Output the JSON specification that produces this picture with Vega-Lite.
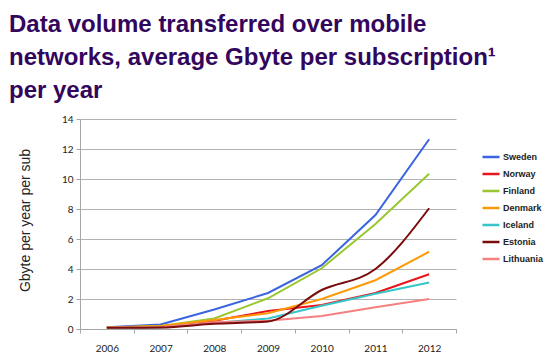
{
  "$schema": "https://vega.github.io/schema/vega-lite/v6.json",
  "width": 376,
  "height": 210,
  "autosize": "none",
  "padding": {"left": 80, "top": 119, "right": 94, "bottom": 29},
  "background": "white",
  "title": {
    "text": ["Data volume transferred over mobile", "networks, average Gbyte per subscription¹", "per year"],
    "anchor": "start",
    "frame": "group",
    "orient": "top",
    "dx": -71,
    "offset": 11,
    "font": "Liberation Sans",
    "fontSize": 24,
    "fontWeight": "bold",
    "lineHeight": 33,
    "color": "#33065e"
  },
  "data": {
    "values": [
      {"year": "2006", "country": "Sweden", "value": 0.12},
      {"year": "2007", "country": "Sweden", "value": 0.3},
      {"year": "2008", "country": "Sweden", "value": 1.3},
      {"year": "2009", "country": "Sweden", "value": 2.4},
      {"year": "2010", "country": "Sweden", "value": 4.25},
      {"year": "2011", "country": "Sweden", "value": 7.6},
      {"year": "2012", "country": "Sweden", "value": 12.65},
      {"year": "2006", "country": "Norway", "value": 0.1},
      {"year": "2007", "country": "Norway", "value": 0.15},
      {"year": "2008", "country": "Norway", "value": 0.55},
      {"year": "2009", "country": "Norway", "value": 1.2},
      {"year": "2010", "country": "Norway", "value": 1.6},
      {"year": "2011", "country": "Norway", "value": 2.4},
      {"year": "2012", "country": "Norway", "value": 3.65},
      {"year": "2006", "country": "Finland", "value": 0.1},
      {"year": "2007", "country": "Finland", "value": 0.2},
      {"year": "2008", "country": "Finland", "value": 0.7},
      {"year": "2009", "country": "Finland", "value": 2.05},
      {"year": "2010", "country": "Finland", "value": 4.05},
      {"year": "2011", "country": "Finland", "value": 7.0},
      {"year": "2012", "country": "Finland", "value": 10.35},
      {"year": "2006", "country": "Denmark", "value": 0.1},
      {"year": "2007", "country": "Denmark", "value": 0.2},
      {"year": "2008", "country": "Denmark", "value": 0.6},
      {"year": "2009", "country": "Denmark", "value": 1.05},
      {"year": "2010", "country": "Denmark", "value": 2.0},
      {"year": "2011", "country": "Denmark", "value": 3.25},
      {"year": "2012", "country": "Denmark", "value": 5.15},
      {"year": "2006", "country": "Iceland", "value": 0.08},
      {"year": "2007", "country": "Iceland", "value": 0.1},
      {"year": "2008", "country": "Iceland", "value": 0.4},
      {"year": "2009", "country": "Iceland", "value": 0.7},
      {"year": "2010", "country": "Iceland", "value": 1.55},
      {"year": "2011", "country": "Iceland", "value": 2.35},
      {"year": "2012", "country": "Iceland", "value": 3.1},
      {"year": "2006", "country": "Estonia", "value": 0.08},
      {"year": "2007", "country": "Estonia", "value": 0.1},
      {"year": "2008", "country": "Estonia", "value": 0.35},
      {"year": "2009", "country": "Estonia", "value": 0.5},
      {"year": "2010", "country": "Estonia", "value": 2.6},
      {"year": "2011", "country": "Estonia", "value": 4.0},
      {"year": "2012", "country": "Estonia", "value": 8.05},
      {"year": "2006", "country": "Lithuania", "value": 0.1},
      {"year": "2007", "country": "Lithuania", "value": 0.12},
      {"year": "2008", "country": "Lithuania", "value": 0.45},
      {"year": "2009", "country": "Lithuania", "value": 0.55},
      {"year": "2010", "country": "Lithuania", "value": 0.87},
      {"year": "2011", "country": "Lithuania", "value": 1.45},
      {"year": "2012", "country": "Lithuania", "value": 2.0}
    ]
  },
  "encoding": {
    "x": {
      "field": "year",
      "type": "ordinal",
      "scale": {"type": "band", "paddingInner": 0, "paddingOuter": 0},
      "axis": {
        "title": null,
        "labelAngle": 0,
        "tickBand": "extent",
        "domainColor": "#a6a6a6",
        "tickColor": "#a6a6a6",
        "tickSize": 4,
        "labelFont": "Lato",
        "labelFontSize": 10,
        "labelColor": "#222222",
        "labelPadding": 10,
        "grid": false
      }
    },
    "y": {
      "field": "value",
      "type": "quantitative",
      "scale": {"domain": [0, 14], "nice": false},
      "axis": {
        "title": "Gbyte per year per sub",
        "titleFont": "Liberation Sans",
        "titleFontSize": 14,
        "titleFontWeight": "normal",
        "titleColor": "#222222",
        "titleAngle": -90,
        "titleX": -55,
        "titleY": 101,
        "titleAlign": "center",
        "titleBaseline": "middle",
        "values": [0, 2, 4, 6, 8, 10, 12, 14],
        "grid": true,
        "gridColor": "#b3b3b3",
        "domainColor": "#a6a6a6",
        "tickColor": "#a6a6a6",
        "tickSize": 4,
        "labelFont": "Lato",
        "labelFontSize": 10,
        "labelColor": "#222222",
        "labelPadding": 3
      }
    },
    "color": {
      "field": "country",
      "type": "nominal",
      "scale": {
        "domain": ["Sweden", "Norway", "Finland", "Denmark", "Iceland", "Estonia", "Lithuania"],
        "range": ["#3a64e0", "#e8141b", "#98c731", "#fd9a08", "#36c6c8", "#7a0c0c", "#f58080"]
      },
      "legend": {
        "title": null,
        "orient": "none",
        "legendX": 401,
        "legendY": 28,
        "symbolType": "stroke",
        "symbolSize": 289,
        "symbolStrokeWidth": 2.5,
        "labelFont": "Liberation Sans",
        "labelFontSize": 9,
        "labelFontWeight": "bold",
        "labelColor": "#222222",
        "labelOffset": 2,
        "rowPadding": 2
      }
    }
  },
  "layer": [
    {
      "transform": [{"filter": "datum.country !== 'Estonia'"}],
      "mark": {"type": "line", "strokeWidth": 2}
    },
    {
      "transform": [{"filter": "datum.country === 'Estonia'"}],
      "mark": {"type": "line", "strokeWidth": 2, "interpolate": "monotone"}
    }
  ],
  "config": {"view": {"stroke": null}}
}
